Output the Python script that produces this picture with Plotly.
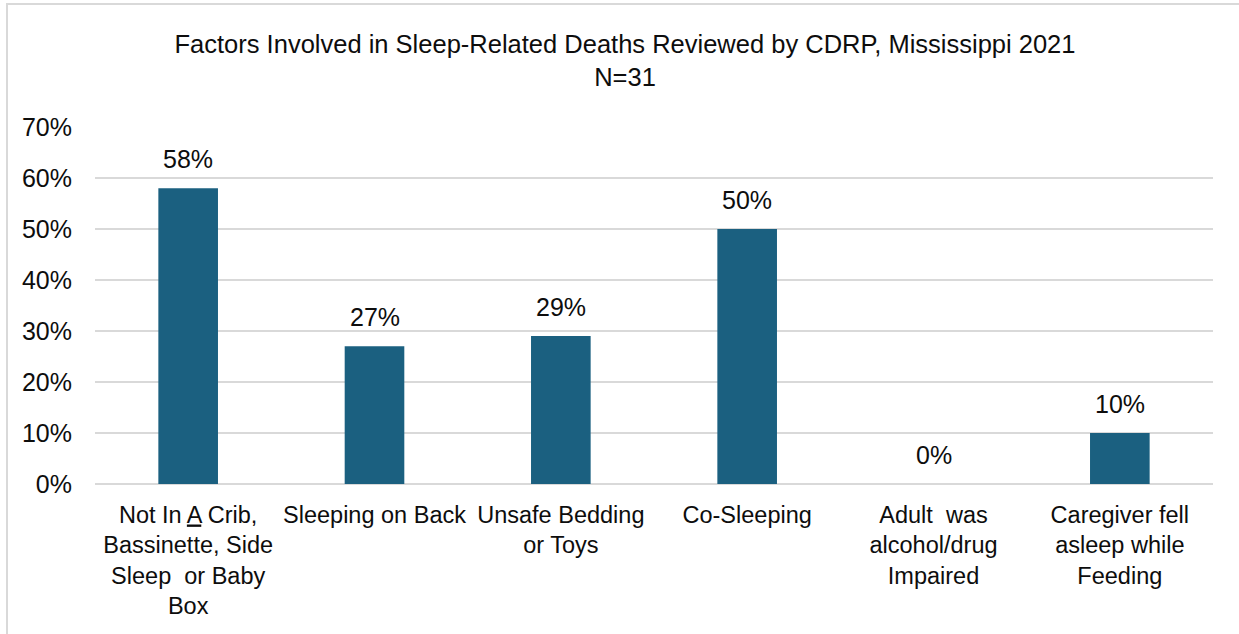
import plotly.graph_objects as go

categories = [
    "Not In <span style='text-decoration:underline;text-decoration-color:#4a78d8'>A</span> Crib,<br>Bassinette, Side<br>Sleep  or Baby<br>Box",
    "Sleeping on Back",
    "Unsafe Bedding<br>or Toys",
    "Co-Sleeping",
    "Adult  was<br>alcohol/drug<br>Impaired",
    "Caregiver fell<br>asleep while<br>Feeding",
]
values = [58, 27, 29, 50, 0, 10]
labels = ["58%", "27%", "29%", "50%", "0%", "10%"]
y_ticks = [0, 10, 20, 30, 40, 50, 60, 70]
y_ticklabels = ["0%", "10%", "20%", "30%", "40%", "50%", "60%", "70%"]
title_text = "Factors Involved in Sleep-Related Deaths Reviewed by CDRP, Mississippi 2021<br>N=31"

FONT = "Liberation Sans, Arial, sans-serif"
BAR = "#1B6080"
TXT = "#0d0d0d"

fig = go.Figure()
fig.add_trace(go.Bar(
    x=list(range(len(categories))),
    y=values,
    marker=dict(color=BAR, line=dict(width=0)),
    width=0.32,
    hoverinfo="skip",
))

for i, (v, t) in enumerate(zip(values, labels)):
    fig.add_annotation(
        x=i, y=v, text=t, showarrow=False, yanchor="bottom", yshift=13,
        font=dict(family=FONT, size=25, color=TXT),
    )

W, H = 1239, 634
L, R, T, B = 95, 26, 127, 150
pw, ph = W - L - R, H - T - B
fig.add_shape(
    type="rect", xref="paper", yref="paper",
    x0=(7 - L) / pw, x1=(W + 10 - L) / pw,
    y0=(H - B - (H + 10)) / ph, y1=(H - B - 4) / ph,
    line=dict(color="#d9d9d9", width=2), fillcolor="rgba(0,0,0,0)", layer="below",
)

fig.update_layout(
    width=W, height=H,
    margin=dict(l=L, r=R, t=T, b=B),
    paper_bgcolor="white", plot_bgcolor="white",
    showlegend=False,
    title=dict(
        text=title_text, x=625 / W, xanchor="center",
        y=1 - 53 / H, yanchor="top",
        font=dict(family=FONT, size=25.5, color=TXT),
    ),
    font=dict(family=FONT, size=23.5, color=TXT),
    xaxis=dict(
        tickmode="array", tickvals=list(range(len(categories))), ticktext=categories,
        range=[-0.5, len(categories) - 0.5],
        showgrid=False, zeroline=False, showline=False, ticks="",
        ticklabelstandoff=14,
        tickfont=dict(family=FONT, size=23.5, color=TXT),
        fixedrange=True,
    ),
    yaxis=dict(
        range=[0, 70], tickmode="array", tickvals=y_ticks, ticktext=y_ticklabels,
        showgrid=True, gridcolor="#d9d9d9", gridwidth=2,
        zeroline=True, zerolinecolor="#d9d9d9", zerolinewidth=2,
        showline=False, ticks="", ticklabelstandoff=22,
        tickfont=dict(family=FONT, size=25, color=TXT),
        fixedrange=True,
    ),
)

fig.write_html("out.html")
